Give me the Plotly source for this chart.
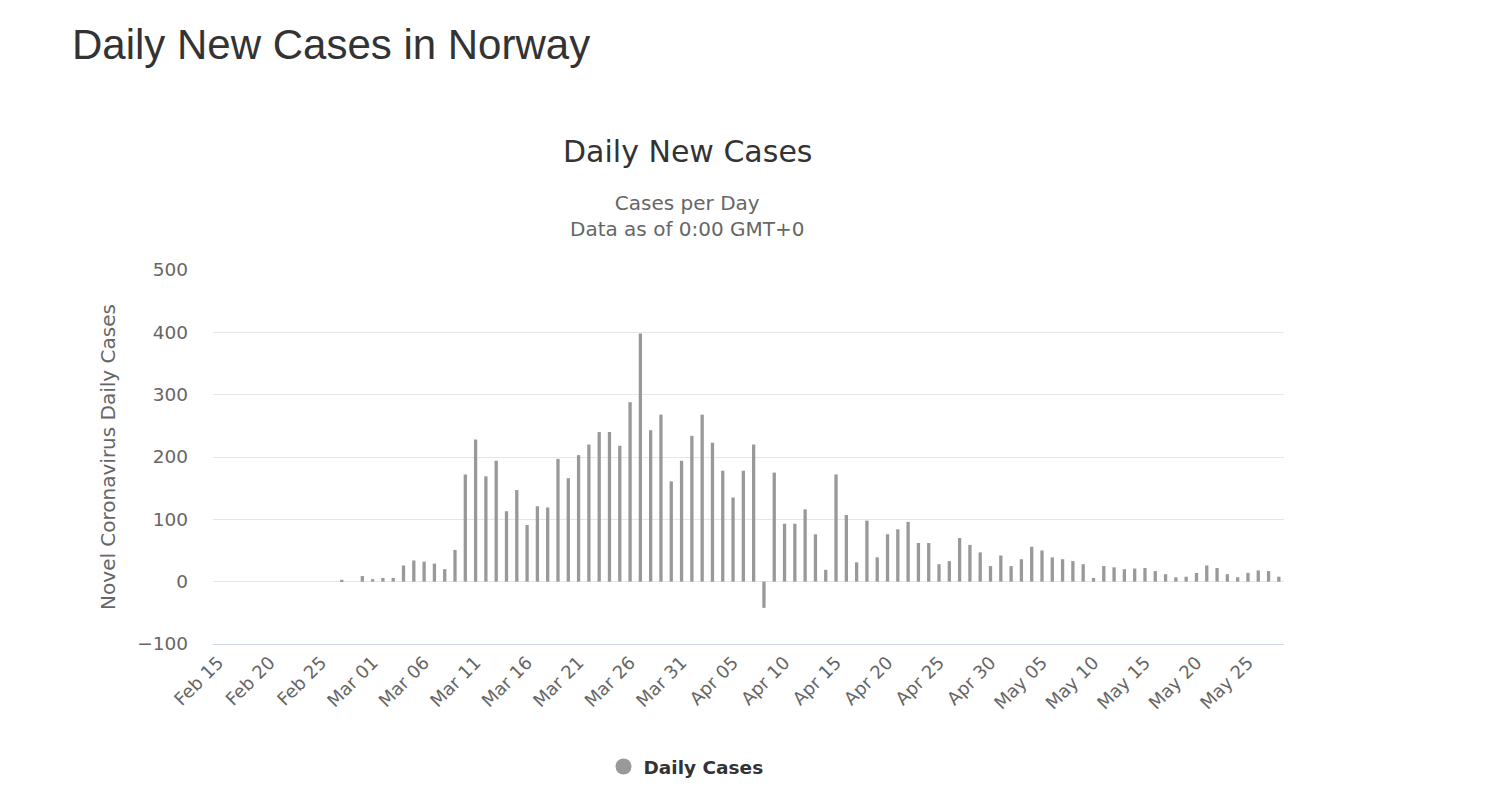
import pandas as pd
import plotly.graph_objects as go

# ---- data ----
dates = pd.date_range("2020-02-15", "2020-05-28", freq="D")
categories = [d.strftime("%b %d") for d in dates]

daily_cases = [
    # Feb 15 - Feb 29
    0, 0, 0, 0, 0, 0, 0, 0, 0, 0, 0, 0, 3, 0, 9,
    # Mar 01 - Mar 31
    4, 6, 6, 26, 34, 32, 29, 20, 51, 172, 228, 169, 194, 113, 147, 91,
    121, 119, 197, 166, 203, 220, 240, 240, 218, 288, 398, 243, 268, 161, 194,
    # Apr 01 - Apr 30
    234, 268, 223, 178, 135, 178, 220, -42, 175, 93, 93, 116, 76, 19, 172,
    107, 31, 98, 39, 76, 84, 96, 62, 62, 28, 33, 70, 59, 47, 25,
    # May 01 - May 28
    42, 25, 36, 56, 50, 39, 36, 33, 28, 6, 25, 23, 20, 21, 22, 17, 12, 7,
    8, 14, 26, 22, 12, 7, 14, 18, 17, 8,
]

tick_labels = categories[::5]
y_ticks = [-100, 0, 100, 200, 300, 400, 500]

BAR_COLOR = "#999999"
CHART_FONT = "DejaVu Sans"

# page offset of the figure inside the browser window (body margin)
OFF = 8

fig = go.Figure()
fig.add_trace(go.Bar(
    x=categories,
    y=daily_cases,
    name="Daily Cases",
    marker=dict(color=BAR_COLOR, line=dict(width=0)),
    showlegend=False,
))
# legend entry with a circle symbol
fig.add_trace(go.Scatter(
    x=[None], y=[None], mode="markers", name="Daily Cases",
    marker=dict(symbol="circle", size=20, color=BAR_COLOR),
    showlegend=True,
))

fig.update_layout(
    width=1496,
    height=810,
    paper_bgcolor="white",
    plot_bgcolor="white",
    margin=dict(l=213 - OFF, r=212 + OFF, t=270 - OFF, b=166 + OFF),
    bargap=0.68,
    title=dict(
        text="Daily New Cases in Norway",
        font=dict(family="Liberation Sans, Arial, sans-serif", size=42, color="#333333"),
        xref="container", yref="container",
        x=(72 - OFF) / 1496, xanchor="left",
        y=1 - (44 - OFF) / 810, yanchor="middle",
    ),
    showlegend=True,
    legend=dict(
        orientation="h",
        x=(686 - 213) / 1071, xanchor="center",
        y=(644 - 767) / 374, yanchor="middle",
        font=dict(family=CHART_FONT, size=18.5, color="#333333", weight="bold"),
        itemsizing="trace",
    ),
    xaxis=dict(
        type="category",
        tickmode="array",
        tickvals=tick_labels,
        ticktext=tick_labels,
        tickangle=-45,
        tickfont=dict(family=CHART_FONT, size=18, color="#666666"),
        showgrid=False,
        showline=True,
        linecolor="#ccd6eb",
        linewidth=1,
        ticks="",
        zeroline=False,
        range=[-0.5, len(categories) - 0.5],
        fixedrange=True,
    ),
    yaxis=dict(
        range=[-100, 500],
        tickmode="array",
        tickvals=y_ticks,
        tickfont=dict(family=CHART_FONT, size=18.5, color="#666666"),
        showgrid=True,
        gridcolor="#e6e6e6",
        gridwidth=1,
        zeroline=False,
        showline=False,
        ticks="",
        ticklabelstandoff=24,
        title=dict(
            text="Novel Coronavirus Daily Cases",
            font=dict(family=CHART_FONT, size=20, color="#666666"),
            standoff=16,
        ),
        fixedrange=True,
    ),
    annotations=[
        dict(
            text="Daily New Cases",
            xref="paper", yref="paper",
            x=(687 - 213) / 1071, y=(644 - 151) / 374,
            xanchor="center", yanchor="middle",
            showarrow=False,
            font=dict(family=CHART_FONT, size=30, color="#333333"),
        ),
        dict(
            text="Cases per Day<br>Data as of 0:00 GMT+0",
            xref="paper", yref="paper",
            x=(687 - 213) / 1071, y=(644 - 216) / 374,
            xanchor="center", yanchor="middle",
            showarrow=False,
            font=dict(family=CHART_FONT, size=20, color="#666666"),
        ),
    ],
)

fig.write_html("out.html")
